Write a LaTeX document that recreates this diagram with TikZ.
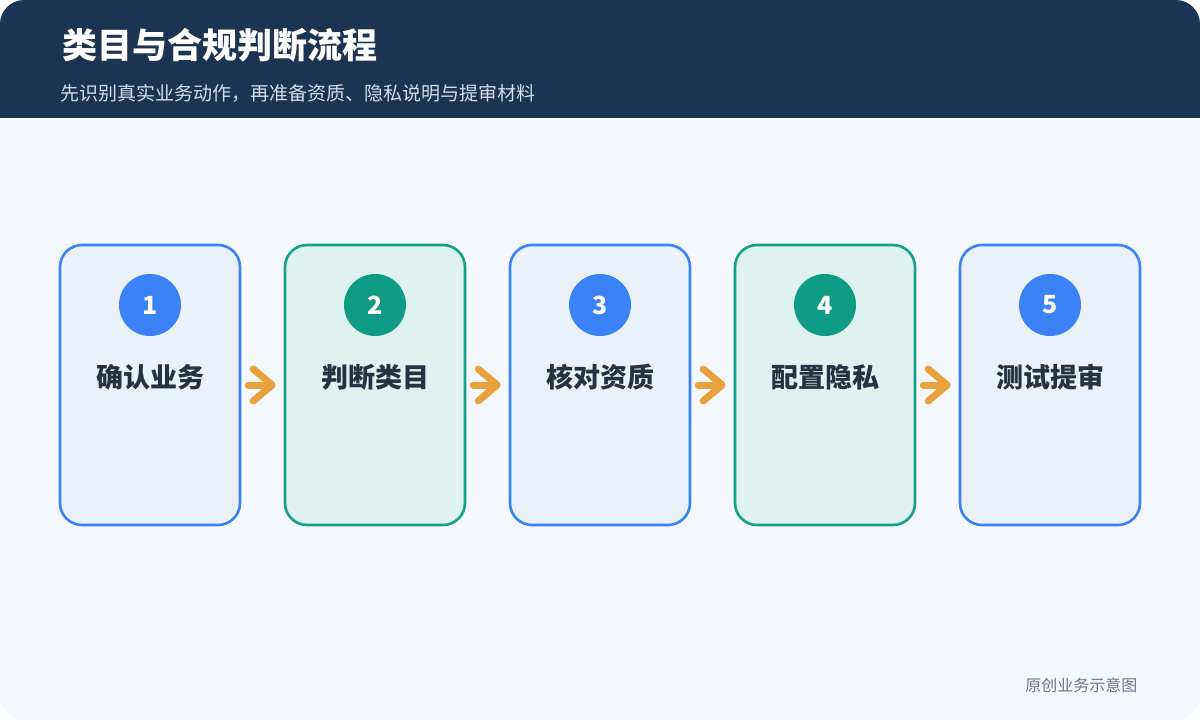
\documentclass[tikz,border=0pt]{standalone}
\usepackage{fontspec}
\setmainfont{Noto Sans CJK SC}
\usetikzlibrary{arrows.meta}
\definecolor{hdr}{HTML}{1B3452}
\definecolor{bodybg}{HTML}{F4F8FD}
\definecolor{bluebd}{HTML}{3B82F6}
\definecolor{bluefl}{HTML}{EAF1F9}
\definecolor{greenbd}{HTML}{15A088}
\definecolor{greenfl}{HTML}{DEF3EF}
\definecolor{tealdot}{HTML}{0F9B86}
\definecolor{labtxt}{HTML}{263142}
\definecolor{subtxt}{HTML}{D3DDE8}
\definecolor{foottxt}{HTML}{6C788A}
\definecolor{flowc}{HTML}{E9A23B}

\tikzset{
  stepblue/.style={rectangle, draw=bluebd, fill=bluefl, line width=2.6pt,
    rounded corners=22pt, minimum width=180pt, minimum height=280pt},
  stepgreen/.style={stepblue, draw=greenbd, fill=greenfl},
  dotblue/.style={circle, fill=bluebd, minimum size=62pt, inner sep=0pt,
    text=white, font=\fontsize{25}{30}\selectfont\bfseries},
  dotgreen/.style={dotblue, fill=tealdot},
  steplabel/.style={text=labtxt, font=\fontsize{27}{32}\selectfont\bfseries},
  flow/.style={draw=flowc, line width=7pt, line cap=round,
    -{Straight Barb[length=19pt,width=32pt,round]},
    shorten <=7pt, shorten >=8pt}
}

\begin{document}
\begin{tikzpicture}[x=1pt,y=-1pt]
\useasboundingbox (0,0) rectangle (1200,720);
\fill[white] (0,0) rectangle (1200,720);
\begin{scope}
\clip[rounded corners=24pt] (0,0) rectangle (1200,720);
\fill[bodybg] (0,0) rectangle (1200,720);
\fill[hdr] (0,0) rectangle (1200,118);
\end{scope}

% header
\node[anchor=west, text=white, font=\fontsize{35}{40}\selectfont\bfseries] (title) at (59,45) {类目与合规判断流程};
\node[anchor=west, text=subtxt, font=\fontsize{19}{23}\selectfont] (subtitle) at (57,93) {先识别真实业务动作，再准备资质、隐私说明与提审材料};

% steps
\node[stepblue] (r1) at (150,385) {};
\node[stepgreen] (r2) at (375,385) {};
\node[stepblue] (r3) at (600,385) {};
\node[stepgreen] (r4) at (825,385) {};
\node[stepblue] (r5) at (1050,385) {};

\node[dotblue] (n1) at (150,305) {1};
\node[dotgreen] (n2) at (375,305) {2};
\node[dotblue] (n3) at (600,305) {3};
\node[dotgreen] (n4) at (825,305) {4};
\node[dotblue] (n5) at (1050,305) {5};

\node[steplabel] (l1) at (150,377) {确认业务};
\node[steplabel] (l2) at (375,377) {判断类目};
\node[steplabel] (l3) at (600,377) {核对资质};
\node[steplabel] (l4) at (825,377) {配置隐私};
\node[steplabel] (l5) at (1050,377) {测试提审};

% arrows
\draw[flow] (r1) -- (r2);
\draw[flow] (r2) -- (r3);
\draw[flow] (r3) -- (r4);
\draw[flow] (r4) -- (r5);

% footer
\node[anchor=east, text=foottxt, font=\fontsize{16}{19}\selectfont] (foot) at (1141,685) {原创业务示意图};
\end{tikzpicture}
\end{document}
